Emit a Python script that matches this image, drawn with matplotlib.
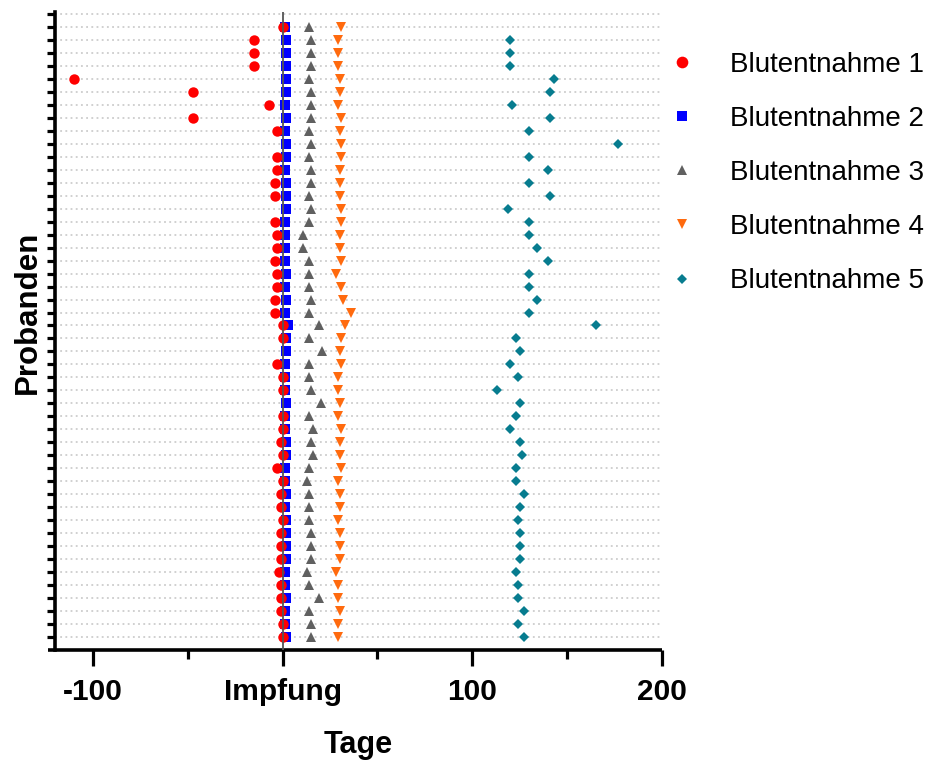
import numpy as np
import matplotlib
matplotlib.use("Agg")
import matplotlib.pyplot as plt
from matplotlib.ticker import FixedLocator

nan = np.nan
# rows listed from top (row 0) to bottom (row 47)
blut1 = [0, -15, -15, -15, -110, -47, -7, -47, -3, nan, -3, -3, -4, -4, nan, -4,
         -3, -3, -4, -3, -3, -4, -4, 0, 0, nan, -3, 0, 0, nan, 0, 0,
         -1, 0, -3, 0, -1, -1, 0, -1, -1, -1, -2, -1, -1, -1, 0, 0]
blut2 = [1, 2, 2, 2, 2, 2, 1, 2, 1, 2, 2, 1, 2, 2, 2, 1,
         1, 1, 1, 2, 1, 2, 1, 3, 2, 2, 1, 1, 1, 2, 1, 1,
         2, 2, 1, 1, 2, 1, 2, 2, 2, 2, 1, 1, 2, 1, 1, 2]
blut3 = [14, 15, 15, 15, 14, 15, 15, 15, 14, 15, 14, 15, 15, 14, 15, 14,
         11, 11, 14, 14, 14, 15, 14, 19, 14, 21, 14, 14, 15, 20, 14, 16,
         15, 16, 14, 13, 14, 14, 14, 15, 15, 15, 13, 14, 19, 14, 15, 15]
blut4 = [31, 29, 29, 29, 30, 30, 29, 31, 30, 31, 31, 30, 30, 30, 31, 31,
         30, 30, 31, 28, 31, 32, 36, 33, 31, 30, 31, 29, 29, 30, 29, 31,
         30, 30, 31, 29, 30, 30, 29, 30, 30, 30, 28, 29, 29, 30, 29, 29]
blut5 = [nan, 120, 120, 120, 143, 141, 121, 141, 130, 177, 130, 140, 130, 141, 119, 130,
         130, 134, 140, 130, 130, 134, 130, 165, 123, 125, 120, 124, 113, 125, 123, 120,
         125, 126, 123, 123, 127, 125, 124, 125, 125, 125, 123, 124, 124, 127, 124, 127]
series_names = ["Blutentnahme 1", "Blutentnahme 2", "Blutentnahme 3",
                "Blutentnahme 4", "Blutentnahme 5"]
x_ticks = [-100, 0, 100, 200]
x_ticklabels = ["-100", "Impfung", "100", "200"]

n = len(blut1)
probanden = np.arange(n, 0, -1)

plt.rcParams['font.family'] = ['Liberation Sans', 'DejaVu Sans']

fig = plt.figure(figsize=(9.38, 7.61), dpi=100)
ax = fig.add_axes([55/938, 1-650/761, (662-55)/938, (650-12)/761])

styles = [
    dict(marker='o', color='#FF0000', ms=7.5, zorder=6),
    dict(marker='s', color='#0000FF', ms=6.6, zorder=5),
    dict(marker='^', color='#606060', ms=7.0, zorder=4),
    dict(marker='v', color='#FF6A0E', ms=7.0, zorder=4),
    dict(marker='D', color='#077C8F', ms=4.8, zorder=4),
]
for vals, name, st in zip([blut1, blut2, blut3, blut4, blut5], series_names, styles):
    ax.plot(vals, probanden, linestyle='none', marker=st['marker'], color=st['color'],
            ms=st['ms'], mew=0, zorder=st['zorder'], label=name, clip_on=False)

ax.axvline(0, color='#555555', lw=1.3, zorder=7)

ax.set_xlim(-120, 200)
ax.set_ylim(0, n + 1.15)

ax.set_yticks(np.arange(1, n + 2))
ax.set_yticklabels([])
ax.yaxis.grid(True, color='#c4c4c4', linestyle=(0, (1.2, 2.2)), linewidth=1.1)
ax.set_axisbelow(True)

ax.set_xticks(x_ticks)
ax.set_xticklabels(x_ticklabels, fontsize=21.5, fontweight='bold')
ax.xaxis.set_minor_locator(FixedLocator([-50, 50, 150]))

ax.tick_params(axis='y', which='major', length=6, width=2.3, direction='out')
ax.tick_params(axis='x', which='major', length=11.5, width=2.3, pad=9)
ax.tick_params(axis='x', which='minor', length=6.5, width=2.3)

for s in ['top', 'right']:
    ax.spines[s].set_visible(False)
for s in ['left', 'bottom']:
    ax.spines[s].set_linewidth(2.6)
ax.spines['bottom'].set_bounds(-123.5, 200)
ax.spines['bottom'].set_capstyle('butt')

ax.set_xlabel("Tage", fontsize=22, fontweight='bold')
ax.xaxis.set_label_coords(0.5, -0.149)
ax.xaxis.label.set_va('center')
ax.set_ylabel("Probanden", fontsize=22.5, fontweight='bold')
ax.yaxis.set_label_coords(-0.044, 0.53)
ax.yaxis.label.set_va('center')

leg = fig.legend(loc='upper left', bbox_to_anchor=(668/938, 1 - 52/761),
                 frameon=False, fontsize=20, markerscale=1.12, handlelength=1.0,
                 handletextpad=1.25, labelspacing=1.01, borderpad=0, borderaxespad=0)

fig.savefig("out.png", dpi=100)
